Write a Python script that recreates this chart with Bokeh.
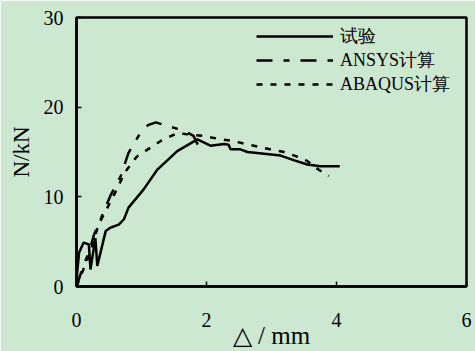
from bokeh.plotting import figure
from bokeh.models import Range1d, FixedTicker, Legend, LegendItem
from bokeh.embed import file_html
from bokeh.resources import INLINE

# ---- data ----
test_x = [0, 0.01, 0.04, 0.11, 0.19, 0.215, 0.29, 0.32, 0.45, 0.52, 0.65, 0.73, 0.80,
          1.03, 1.24, 1.55, 1.86, 2.06, 2.27, 2.34, 2.37, 2.52, 2.63, 3.14, 3.34, 3.55, 3.75, 4.05]
test_y = [0, 1.5, 3.8, 4.9, 4.7, 1.9, 5.4, 2.3, 6.2, 6.55, 6.9, 7.5, 8.8,
          10.8, 13.0, 15.1, 16.4, 15.7, 15.9, 15.8, 15.3, 15.3, 15.0, 14.6, 14.1, 13.6, 13.4, 13.4]

ansys_x = [0, 0.1, 0.2, 0.27, 0.32, 0.52, 0.68, 0.80, 0.98, 1.10, 1.22, 1.45, 1.65, 1.80, 1.88]
ansys_y = [0, 2.2, 4.0, 5.8, 6.6, 10.1, 12.3, 14.9, 17.1, 18.0, 18.3, 17.8, 17.4, 16.8, 15.6]

abaqus_x = [0, 0.1, 0.2, 0.28, 0.34, 0.57, 0.75, 0.93, 1.29, 1.55, 1.93, 2.16, 2.42, 2.73,
            2.98, 3.19, 3.39, 3.55, 3.65, 3.88]
abaqus_y = [0, 1.8, 3.6, 5.5, 6.9, 10.1, 12.8, 14.5, 16.2, 17.1, 16.8, 16.5, 16.2, 15.7,
            15.3, 15.0, 14.5, 14.0, 13.4, 12.3]

series_names = ["试验", "ANSYS计算", "ABAQUS计算"]
x_ticks = [0, 2, 4, 6]
y_ticks = [0, 10, 20, 30]
x_label = "△ / mm"
y_label = "N/kN"

BG = "#CDE8D0"
SERIF = "Liberation Serif"

p = figure(width=475, height=351, output_backend="svg", toolbar_location=None,
           x_range=Range1d(0, 6), y_range=Range1d(0, 30),
           min_border_left=76, min_border_right=9, min_border_top=17, min_border_bottom=64)
p.background_fill_color = BG
p.border_fill_color = BG
p.outline_line_color = "black"
p.outline_line_width = 2.5
p.grid.visible = False

for ax, ticks in ((p.xaxis[0], x_ticks), (p.yaxis[0], y_ticks)):
    ax.ticker = FixedTicker(ticks=ticks)
    ax.major_tick_in = 5
    ax.major_tick_out = 0
    ax.minor_tick_in = 0
    ax.minor_tick_out = 0
    ax.axis_line_color = "black"
    ax.axis_line_width = 2.5
    ax.major_tick_line_width = 1.5
    ax.major_label_text_font = SERIF
    ax.major_label_text_font_size = "20px"
    ax.major_label_text_color = "black"
    ax.axis_label_text_font = SERIF
    ax.axis_label_text_color = "black"
    ax.axis_label_text_font_style = "normal"

p.xaxis.major_label_standoff = 26
p.xaxis.axis_label = x_label
p.xaxis.axis_label_text_font_size = "25px"
p.xaxis.axis_label_standoff = -8

p.yaxis.major_label_standoff = 13
p.yaxis.axis_label = y_label
p.yaxis.axis_label_text_font_size = "23px"
p.yaxis.axis_label_standoff = 7

r1 = p.line(test_x, test_y, line_color="black", line_width=2.5)
r2 = p.line(ansys_x, ansys_y, line_color="black", line_width=2.5, line_dash="16 11 6 11")
r3 = p.line(abaqus_x, abaqus_y, line_color="black", line_width=2.5, line_dash="6 8")

legend = Legend(items=[LegendItem(label=series_names[0], renderers=[r1]),
                       LegendItem(label=series_names[1], renderers=[r2]),
                       LegendItem(label=series_names[2], renderers=[r3])],
                location=(180, 190), glyph_width=77, glyph_height=20, label_height=20,
                label_standoff=7, spacing=-7, padding=0, margin=0,
                border_line_color=None, background_fill_alpha=0,
                label_text_font=SERIF, label_text_font_size="18px", label_text_color="black")
p.add_layout(legend)

open("out.html", "w").write(file_html(p, INLINE))
